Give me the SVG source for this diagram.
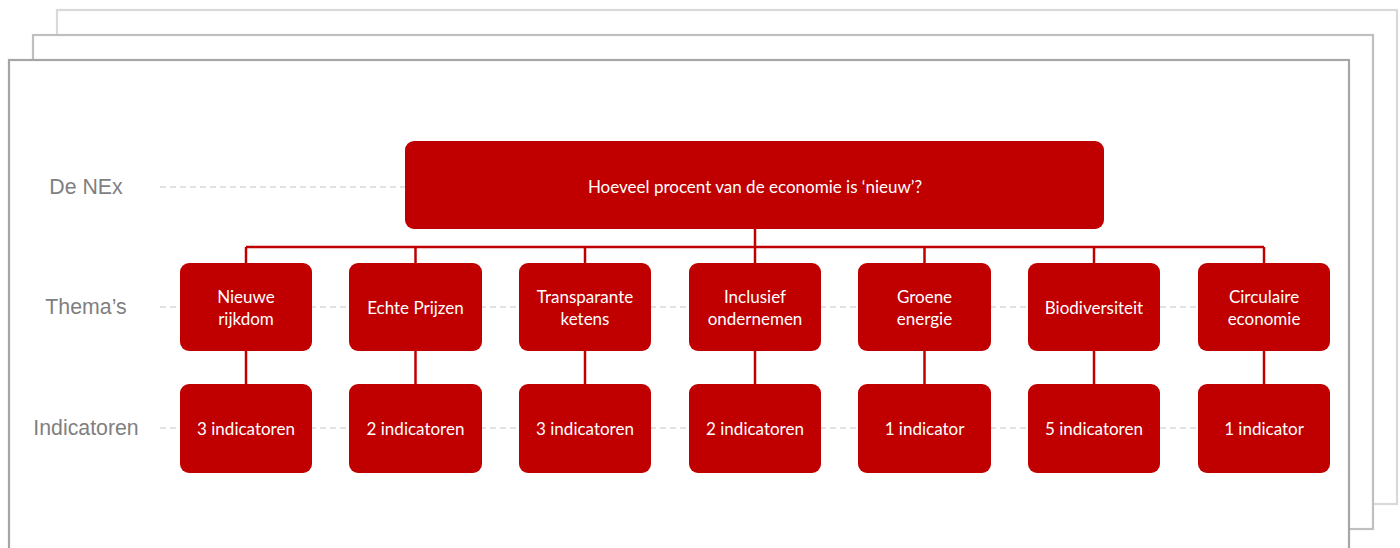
<svg xmlns="http://www.w3.org/2000/svg" width="1400" height="548" viewBox="0 0 1400 548">
<style>
.frame{fill:#fff;stroke-width:2.2}
.box{fill:#c00000}
.t{font-family:Lato,"Open Sans",sans-serif;font-size:17px;fill:#fff;text-anchor:middle;dominant-baseline:central}
.lbl{font-family:"Liberation Sans",Arial,sans-serif;font-size:21.3px;fill:#7f7f7f;text-anchor:middle;dominant-baseline:central}
.dash{stroke:#d9d9d9;stroke-width:1.3;stroke-dasharray:6 4;fill:none}
.con{stroke:#c00000;stroke-width:2.5;fill:none}
</style>
<g id="frames">
<rect class="frame" x="57" y="10" width="1340" height="494" stroke="#d9d9d9"/>
<rect class="frame" x="33" y="35" width="1340" height="494" stroke="#bfbfbf"/>
<rect class="frame" x="9" y="60" width="1340" height="500" stroke="#a6a6a6"/>
</g>
<g id="guides">
<line class="dash" x1="160" y1="187" x2="410" y2="187"/>
<line class="dash" x1="160" y1="307" x2="1200" y2="307"/>
<line class="dash" x1="160" y1="428" x2="1200" y2="428"/>
</g>
<g id="labels">
<text class="lbl" x="86" y="187">De NEx</text>
<text class="lbl" x="86" y="307">Thema’s</text>
<text class="lbl" x="86" y="428">Indicatoren</text>
</g>
<g id="connectors">
<line class="con" x1="755" y1="229" x2="755" y2="247"/>
<line class="con" x1="246" y1="247" x2="1264" y2="247"/>
<line class="con" x1="246" y1="247" x2="246" y2="264"/>
<line class="con" x1="415.5" y1="247" x2="415.5" y2="264"/>
<line class="con" x1="585" y1="247" x2="585" y2="264"/>
<line class="con" x1="755" y1="247" x2="755" y2="264"/>
<line class="con" x1="924.5" y1="247" x2="924.5" y2="264"/>
<line class="con" x1="1094" y1="247" x2="1094" y2="264"/>
<line class="con" x1="1264" y1="247" x2="1264" y2="264"/>
<line class="con" x1="246" y1="351" x2="246" y2="385"/>
<line class="con" x1="415.5" y1="351" x2="415.5" y2="385"/>
<line class="con" x1="585" y1="351" x2="585" y2="385"/>
<line class="con" x1="755" y1="351" x2="755" y2="385"/>
<line class="con" x1="924.5" y1="351" x2="924.5" y2="385"/>
<line class="con" x1="1094" y1="351" x2="1094" y2="385"/>
<line class="con" x1="1264" y1="351" x2="1264" y2="385"/>
</g>
<g id="nex">
<rect class="box" x="405" y="141" width="699" height="88" rx="9"/>
<text class="t" x="755" y="186">Hoeveel procent van de economie is ‘nieuw’?</text>
</g>
<g id="thema1"><rect class="box" x="180" y="263" width="132" height="88" rx="9"/><text class="t" x="246" y="296">Nieuwe</text><text class="t" x="246" y="318">rijkdom</text></g>
<g id="thema2"><rect class="box" x="349" y="263" width="133" height="88" rx="9"/><text class="t" x="415.5" y="307">Echte Prijzen</text></g>
<g id="thema3"><rect class="box" x="519" y="263" width="132" height="88" rx="9"/><text class="t" x="585" y="296">Transparante</text><text class="t" x="585" y="318">ketens</text></g>
<g id="thema4"><rect class="box" x="689" y="263" width="132" height="88" rx="9"/><text class="t" x="755" y="296">Inclusief</text><text class="t" x="755" y="318">ondernemen</text></g>
<g id="thema5"><rect class="box" x="858" y="263" width="133" height="88" rx="9"/><text class="t" x="924.5" y="296">Groene</text><text class="t" x="924.5" y="318">energie</text></g>
<g id="thema6"><rect class="box" x="1028" y="263" width="132" height="88" rx="9"/><text class="t" x="1094" y="307">Biodiversiteit</text></g>
<g id="thema7"><rect class="box" x="1198" y="263" width="132" height="88" rx="9"/><text class="t" x="1264" y="296">Circulaire</text><text class="t" x="1264" y="318">economie</text></g>
<g id="ind1"><rect class="box" x="180" y="384" width="132" height="89" rx="9"/><text class="t" x="246" y="428">3 indicatoren</text></g>
<g id="ind2"><rect class="box" x="349" y="384" width="133" height="89" rx="9"/><text class="t" x="415.5" y="428">2 indicatoren</text></g>
<g id="ind3"><rect class="box" x="519" y="384" width="132" height="89" rx="9"/><text class="t" x="585" y="428">3 indicatoren</text></g>
<g id="ind4"><rect class="box" x="689" y="384" width="132" height="89" rx="9"/><text class="t" x="755" y="428">2 indicatoren</text></g>
<g id="ind5"><rect class="box" x="858" y="384" width="133" height="89" rx="9"/><text class="t" x="924.5" y="428">1 indicator</text></g>
<g id="ind6"><rect class="box" x="1028" y="384" width="132" height="89" rx="9"/><text class="t" x="1094" y="428">5 indicatoren</text></g>
<g id="ind7"><rect class="box" x="1198" y="384" width="132" height="89" rx="9"/><text class="t" x="1264" y="428">1 indicator</text></g>
</svg>
